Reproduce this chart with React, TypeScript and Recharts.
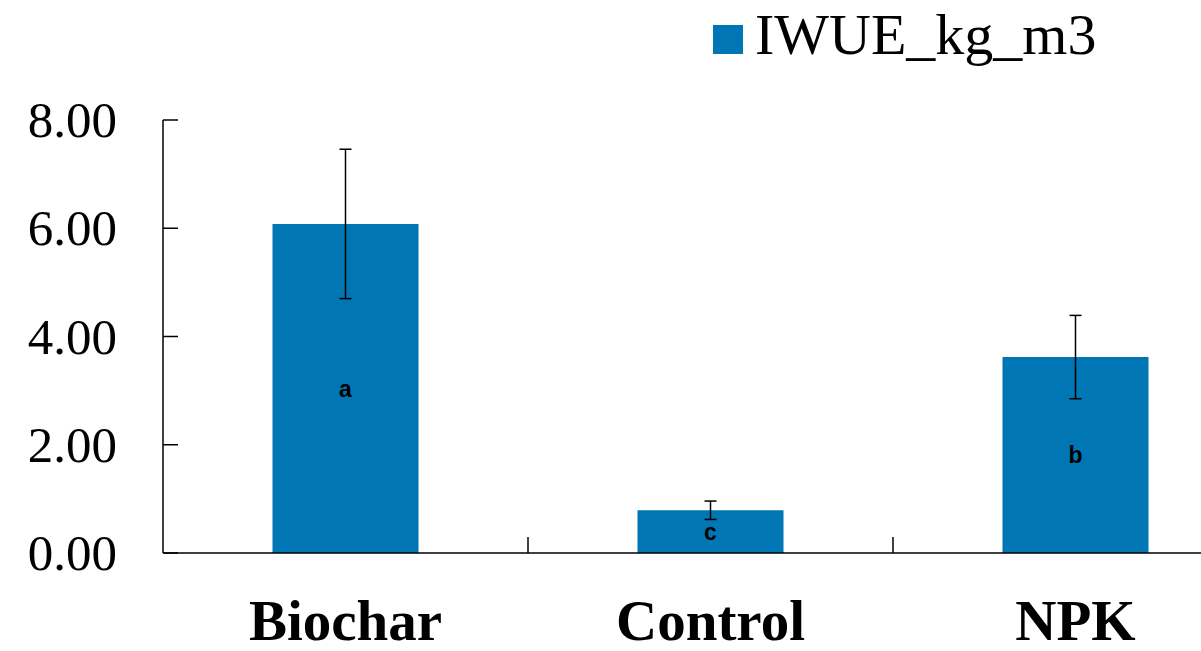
import { BarChart, Bar, XAxis, YAxis, ErrorBar, LabelList, Legend } from 'recharts';

const treatments = ['Biochar', 'Control', 'NPK'];
const iwue = [6.08, 0.79, 3.62];
const iwueError = [1.38, 0.17, 0.77];
const letters = ['a', 'c', 'b'];
const yTicks = [0, 2, 4, 6, 8];

const seriesName = 'IWUE_kg_m3';
const barColor = '#0076B4';
const serif = '"Liberation Serif", "Times New Roman", serif';

const data = treatments.map((name, i) => ({
  name,
  value: iwue[i],
  err: iwueError[i],
  group: letters[i],
}));

function CategoryTick(props: any) {
  const { x, y, payload } = props;
  const half = payload.offset ?? 0;
  return (
    <g>
      <line x1={x + half} y1={y} x2={x + half} y2={y - 16} stroke="#000" strokeWidth={1.5} />
      <text x={x} y={y} dy={87} textAnchor="middle" fontFamily={serif} fontWeight="bold" fontSize={57} fill="#000">
        {payload.value}
      </text>
    </g>
  );
}

function ValueTick(props: any) {
  const { x, y, payload } = props;
  return (
    <g>
      <line x1={x} y1={y} x2={x + 15} y2={y} stroke="#000" strokeWidth={1.5} />
      <text x={x - 46} y={y} dy={17} textAnchor="end" fontFamily={serif} fontSize={51} fill="#000">
        {Number(payload.value).toFixed(2)}
      </text>
    </g>
  );
}

function LegendBox(props: any) {
  const entry = (props.payload && props.payload[0]) || { value: seriesName, color: barColor };
  return (
    <div style={{ position: 'relative', width: 420, height: 70 }}>
      <div style={{ position: 'absolute', left: 0, top: 19, width: 30, height: 29, background: entry.color || barColor }} />
      <div style={{ position: 'absolute', left: 42, top: 0, fontFamily: serif, fontSize: 58, lineHeight: '58px', color: '#000', whiteSpace: 'nowrap' }}>
        {entry.value}
      </div>
    </div>
  );
}

export default function App() {
  return (
    <div style={{ position: 'absolute', left: 0, top: 0, width: 1201, height: 651, overflow: 'hidden', background: '#fff' }}>
      <BarChart width={1258} height={651} data={data} margin={{ top: 120, right: 0, bottom: 0, left: 0 }} barCategoryGap="30%">
        <Legend
          layout="horizontal"
          verticalAlign="middle"
          align="center"
          wrapperStyle={{ top: 6, left: 713, width: 420 }}
          content={<LegendBox />}
        />
        <XAxis
          dataKey="name"
          height={98}
          axisLine={{ stroke: '#000', strokeWidth: 1.5 }}
          tickLine={false}
          tickSize={0}
          tickMargin={0}
          tick={<CategoryTick />}
          interval={0}
        />
        <YAxis
          width={163}
          domain={[0, 8]}
          ticks={yTicks}
          axisLine={{ stroke: '#000', strokeWidth: 1.5 }}
          tickLine={false}
          tickSize={0}
          tickMargin={0}
          tick={<ValueTick />}
          interval={0}
        />
        <Bar dataKey="value" name={seriesName} fill={barColor} isAnimationActive={false}>
          <ErrorBar dataKey="err" width={6} stroke="#000" strokeWidth={1.5} direction="y" />
          <LabelList dataKey="group" position="center" fill="#000" fontFamily='"Liberation Sans", Arial, sans-serif' fontWeight="bold" fontSize={23} />
        </Bar>
      </BarChart>
    </div>
  );
}
